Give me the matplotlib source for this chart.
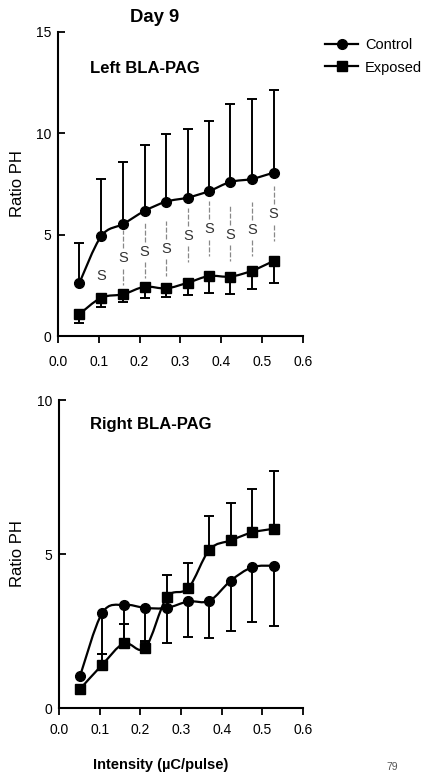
import numpy as np
import matplotlib
matplotlib.use("Agg")
import matplotlib.pyplot as plt
from matplotlib.path import Path
from matplotlib.patches import PathPatch
from matplotlib.lines import Line2D

plt.rcParams['font.family'] = ['Liberation Sans', 'DejaVu Sans']

# ---------------- data ----------------
intensity = [0.052, 0.106, 0.16, 0.212, 0.265, 0.318, 0.37, 0.422, 0.475, 0.528]

left_control = [2.6, 4.93, 5.53, 6.17, 6.63, 6.83, 7.15, 7.6, 7.75, 8.06]
left_control_err_up = [2.0, 2.8, 3.04, 3.24, 3.32, 3.4, 3.45, 3.86, 3.95, 4.06]
left_exposed = [1.07, 1.89, 2.06, 2.43, 2.35, 2.63, 2.96, 2.93, 3.22, 3.7]
left_exposed_err_down = [0.41, 0.44, 0.37, 0.57, 0.41, 0.61, 0.86, 0.87, 0.88, 1.07]
sig_x = [0.106, 0.16, 0.212, 0.265, 0.318, 0.37, 0.422, 0.475, 0.528]
sig_y = [2.96, 3.83, 4.16, 4.28, 4.93, 5.26, 5.0, 5.23, 6.0]
sig_lines = [False, True, True, True, True, True, True, True, True]

right_control = [1.05, 3.08, 3.35, 3.25, 3.25, 3.46, 3.48, 4.13, 4.57, 4.62]
right_control_err_down = [0.0, 1.33, 1.25, 1.1, 1.15, 1.17, 1.21, 1.64, 1.79, 1.97]
right_exposed = [0.62, 1.4, 2.1, 1.95, 3.59, 3.89, 5.14, 5.44, 5.7, 5.82]
right_exposed_err_up = [0.0, 0.36, 0.62, 0.24, 0.73, 0.81, 1.1, 1.21, 1.4, 1.89]

# ---------------- helpers ----------------
def smooth_curve(ax, xs, ys, lw=1.6):
    pts = np.column_stack([xs, ys])
    n = len(pts)
    verts = [pts[0]]
    codes = [Path.MOVETO]
    for i in range(n - 1):
        p0 = pts[i - 1] if i > 0 else pts[i]
        p1 = pts[i]
        p2 = pts[i + 1]
        p3 = pts[i + 2] if i + 2 < n else pts[i + 1]
        c1 = p1 + (p2 - p0) / 6.0
        c2 = p2 - (p3 - p1) / 6.0
        verts += [c1, c2, p2]
        codes += [Path.CURVE4] * 3
    ax.add_patch(PathPatch(Path(verts, codes), facecolor='none',
                           edgecolor='black', lw=lw, zorder=3))

def style_axes(ax, ymax, yticks, xpad):
    ax.set_xlim(0, 0.6)
    ax.set_ylim(0, ymax)
    ax.spines['top'].set_visible(False)
    ax.spines['right'].set_visible(False)
    for s in ['left', 'bottom']:
        ax.spines[s].set_linewidth(1.5)
    ax.set_xticks([0.0, 0.1, 0.2, 0.3, 0.4, 0.5, 0.6])
    ax.set_xticklabels(['0.0', '0.1', '0.2', '0.3', '0.4', '0.5', '0.6'])
    ax.set_yticks(yticks)
    ax.tick_params(axis='x', direction='out', length=5, width=1.3,
                   labelsize=10, pad=xpad)
    ax.tick_params(axis='y', direction='in', length=5, width=1.3,
                   labelsize=10, pad=5)
    ax.set_ylabel('Ratio PH', fontsize=12)

fig = plt.figure(figsize=(4.27, 7.74), dpi=100)

# ---------------- top panel ----------------
ax1 = fig.add_axes([58 / 427, 1 - 336 / 774, 245 / 427, 304 / 774])
style_axes(ax1, 15, [0, 5, 10, 15], 9)
ax1.yaxis.set_label_coords(-0.135, 0.5)
ax1.errorbar(intensity, left_control,
             yerr=[np.zeros(len(left_control)), left_control_err_up],
             fmt='none', ecolor='black', elinewidth=1.4, capsize=3.6, capthick=1.4, zorder=2)
ax1.errorbar(intensity, left_exposed,
             yerr=[left_exposed_err_down, np.zeros(len(left_exposed))],
             fmt='none', ecolor='black', elinewidth=1.4, capsize=3.3, capthick=1.4, zorder=2)
smooth_curve(ax1, intensity, left_control)
smooth_curve(ax1, intensity, left_exposed)
ax1.plot(intensity, left_control, 'o', color='black', ms=7, zorder=4)
ax1.plot(intensity, left_exposed, 's', color='black', ms=6.5, zorder=4)
for sx, sy, has_line in zip(sig_x, sig_y, sig_lines):
    ax1.text(sx, sy, 'S', ha='center', va='center', fontsize=10.5, color='#333333')
    if has_line:
        ax1.plot([sx, sx], [sy + 0.5, sy + 1.4], color='#888888', lw=0.9,
                 ls=(0, (4, 1.5)), zorder=1)
        ax1.plot([sx, sx], [sy - 0.5, sy - 1.3], color='#888888', lw=0.9,
                 ls=(0, (4, 1.5)), zorder=1)
ax1.text(0.078, 13.2, 'Left BLA-PAG', fontsize=12, fontweight='bold', va='center')

fig.text(155 / 427, 1 - 17 / 774, 'Day 9', fontsize=13.3, fontweight='bold',
         ha='center', va='center')

# ---------------- bottom panel ----------------
ax2 = fig.add_axes([59 / 427, 1 - 708 / 774, 244 / 427, 308 / 774])
style_axes(ax2, 10, [0, 5, 10], 6)
ax2.yaxis.set_label_coords(-0.14, 0.5)
ax2.errorbar(intensity, right_control,
             yerr=[right_control_err_down, np.zeros(len(right_control))],
             fmt='none', ecolor='black', elinewidth=1.4, capsize=3.6, capthick=1.4, zorder=2)
ax2.errorbar(intensity, right_exposed,
             yerr=[np.zeros(len(right_exposed)), right_exposed_err_up],
             fmt='none', ecolor='black', elinewidth=1.4, capsize=3.6, capthick=1.4, zorder=2)
smooth_curve(ax2, intensity, right_control)
smooth_curve(ax2, intensity, right_exposed)
ax2.plot(intensity, right_control, 'o', color='black', ms=7, zorder=4)
ax2.plot(intensity, right_exposed, 's', color='black', ms=6.5, zorder=4)
ax2.text(0.077, 9.19, 'Right BLA-PAG', fontsize=12, fontweight='bold', va='center')

fig.text(161 / 427, 1 - 765 / 774, 'Intensity (µC/pulse)', fontsize=10.5,
         fontweight='bold', ha='center', va='center')

# ---------------- legend ----------------
handles = [Line2D([], [], color='black', lw=1.6, marker='o', ms=7),
           Line2D([], [], color='black', lw=1.6, marker='s', ms=6.5)]
fig.legend(handles, ['Control', 'Exposed'], loc='upper left',
           bbox_to_anchor=(319 / 427, 1 - 32 / 774), frameon=False,
           fontsize=10.5, handlelength=2.3, handletextpad=0.45, labelspacing=0.6,
           borderaxespad=0)

fig.text(392 / 427, 1 - 767 / 774, '79', fontsize=7.5, color='#555555',
         ha='center', va='center')

fig.savefig('out.png', dpi=100)
